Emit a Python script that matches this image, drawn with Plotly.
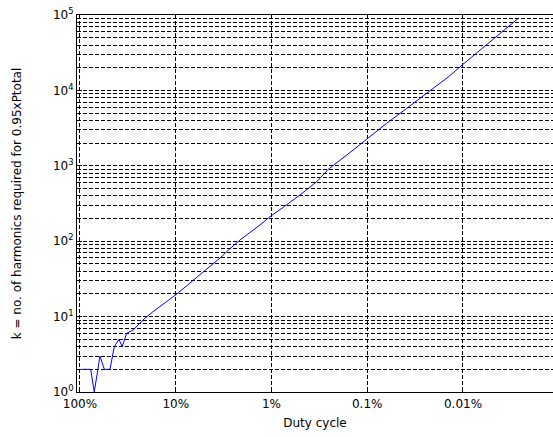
import plotly.graph_objects as go

# Duty cycle (fraction) and number of harmonics k required for 0.95 x Ptotal
duty = [0.97, 0.773, 0.709, 0.618, 0.557, 0.486, 0.438, 0.392, 0.362, 0.326,
        0.28, 0.21, 0.173, 0.098, 0.0558, 0.0345, 0.0283, 0.0213, 0.0132,
        0.0104, 0.00753, 0.00504, 0.00337, 0.00255, 0.0014, 7.36e-4, 6.27e-4,
        3.87e-4, 2.39e-4, 1.43e-4, 1.02e-4, 4.11e-5, 2.64e-5]
k_harm = [2, 2, 1, 3, 2, 2, 4, 5, 4, 6,
          6.6, 9.5, 11.6, 19.8, 36, 59.8, 76, 104, 164,
          211, 282, 410, 615, 899, 1622, 3142, 3659,
          5785, 9149, 15000, 21730, 57190, 90400]

x_tick_vals = [1, 0.1, 0.01, 0.001, 0.0001]
x_tick_text = ["100%", "10%", "1%", "0.1%", "0.01%"]
y_tick_vals = [1, 10, 100, 1000, 10000, 100000]
y_tick_text = ["10<sup>0</sup>", "10<sup>1</sup>", "10<sup>2</sup>",
               "10<sup>3</sup>", "10<sup>4</sup>", "10<sup>5</sup>"]
y_minor_vals = [m * 10 ** e for e in range(0, 5) for m in range(2, 10)]

FONT = "DejaVu Sans, Arial, sans-serif"
DASH = "4px,2px"

fig = go.Figure()
fig.add_trace(go.Scatter(x=duty, y=k_harm, mode="lines",
                         line=dict(color="#0000ff", width=1),
                         showlegend=False, hoverinfo="skip"))

fig.update_layout(
    width=553, height=437,
    margin=dict(l=77, r=0, t=15, b=45, autoexpand=False),
    paper_bgcolor="white", plot_bgcolor="white",
    font=dict(family=FONT, size=12, color="black"),
    xaxis=dict(
        type="log", range=[0.031, -4.94],
        tickmode="array", tickvals=x_tick_vals, ticktext=x_tick_text,
        ticks="inside", ticklen=5, tickcolor="black",
        ticklabelstandoff=1,
        showline=True, linecolor="black", linewidth=1, mirror=True,
        showgrid=True, gridcolor="black", gridwidth=1, griddash=DASH,
        zeroline=False,
        title=dict(text="Duty cycle", standoff=8, font=dict(size=12)),
    ),
    yaxis=dict(
        type="log", range=[0, 5],
        tickmode="array", tickvals=y_tick_vals, ticktext=y_tick_text,
        ticks="inside", ticklen=5, tickcolor="black",
        ticklabeloverflow="allow",
        showline=True, linecolor="black", linewidth=1, mirror=False,
        showgrid=True, gridcolor="black", gridwidth=1, griddash=DASH,
        zeroline=False,
        minor=dict(tickmode="array", tickvals=y_minor_vals, ticks="inside",
                   ticklen=3, tickcolor="black", showgrid=True,
                   gridcolor="black", gridwidth=1, griddash=DASH),
        title=dict(text="k = no. of harmonics required for 0.95xPtotal",
                   standoff=28, font=dict(size=12)),
    ),
)

# remove the browser's default 8px body margin so the figure fills the window
fig.write_html("out.html",
               config={"displayModeBar": False},
               post_script="document.body.style.margin='0px';"
                           "document.body.style.overflow='hidden';")
